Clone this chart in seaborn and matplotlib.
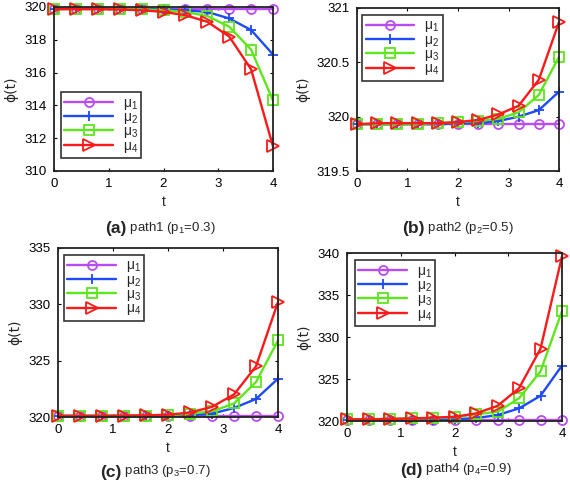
import numpy as np
import pandas as pd
import matplotlib
matplotlib.use("Agg")
import matplotlib.pyplot as plt
import seaborn as sns

sns.set_style("white")
plt.rcParams['font.family'] = ['Liberation Sans', 'DejaVu Sans']
plt.rcParams['mathtext.fontset'] = 'custom'
plt.rcParams['mathtext.rm'] = 'Liberation Sans'
plt.rcParams['mathtext.it'] = 'Liberation Sans:italic'

t = [0.0, 0.4, 0.8, 1.2, 1.6, 2.0, 2.4, 2.8, 3.2, 3.6, 4.0]

# panel (a) path1 p1=0.3
a_mu1 = [319.9]*11
a_mu2 = [319.9, 319.9, 319.9, 319.9, 319.88, 319.85, 319.8, 319.7, 319.3, 318.6, 317.1]
a_mu3 = [319.88, 319.88, 319.88, 319.87, 319.85, 319.8, 319.7, 319.45, 318.8, 317.4, 314.3]
a_mu4 = [319.87, 319.87, 319.87, 319.85, 319.8, 319.7, 319.5, 319.1, 318.2, 316.2, 311.5]

# panel (b) path2 p2=0.5
b_mu1 = [319.93]*11
b_mu2 = [319.93, 319.93, 319.93, 319.93, 319.93, 319.94, 319.94, 319.96, 320.0, 320.06, 320.23]
b_mu3 = [319.93, 319.93, 319.93, 319.93, 319.94, 319.95, 319.96, 319.98, 320.04, 320.2, 320.55]
b_mu4 = [319.93, 319.94, 319.94, 319.94, 319.94, 319.95, 319.97, 320.02, 320.1, 320.34, 320.87]

# panel (c) path3 p3=0.7
c_mu1 = [320.1]*11
c_mu2 = [320.1, 320.1, 320.1, 320.1, 320.1, 320.12, 320.15, 320.3, 320.8, 321.6, 323.4]
c_mu3 = [320.1, 320.1, 320.1, 320.1, 320.12, 320.15, 320.3, 320.5, 321.2, 323.1, 326.8]
c_mu4 = [320.1, 320.1, 320.1, 320.12, 320.15, 320.2, 320.4, 320.9, 322.0, 324.5, 330.2]

# panel (d) path4 p4=0.9
d_mu1 = [320.1]*11
d_mu2 = [320.1, 320.1, 320.1, 320.1, 320.15, 320.2, 320.35, 320.7, 321.5, 323.0, 326.6]
d_mu3 = [320.2, 320.2, 320.25, 320.3, 320.35, 320.45, 320.8, 321.1, 322.7, 325.9, 333.1]
d_mu4 = [320.2, 320.2, 320.25, 320.3, 320.4, 320.5, 320.9, 321.8, 323.9, 328.6, 339.6]

series_labels = ["μ$_1$", "μ$_2$", "μ$_3$", "μ$_4$"]
colors = ["#B84CF2", "#1E4BF5", "#5EE61C", "#FA1A1A"]
markers = ["o", "+", "s", ">"]
msizes = [6.5, 7.5, 6.5, 8.5]

panels = [
    dict(data=[a_mu1, a_mu2, a_mu3, a_mu4], ylim=(310, 320), yticks=[310, 312, 314, 316, 318, 320],
         yticklabels=["310", "312", "314", "316", "318", "320"],
         rect=[54/570, 1-171/487, 219/570, 164/487], leg=dict(loc="lower left", bbox_to_anchor=(0.032, 0.079)),
         cap_tag="(a)", cap_text="path1 (p$_1$=0.3)", cap_x=105, cap_y=229),
    dict(data=[b_mu1, b_mu2, b_mu3, b_mu4], ylim=(319.5, 321), yticks=[319.5, 320, 320.5, 321],
         yticklabels=["319.5", "320", "320.5", "321"],
         rect=[357/570, 1-171/487, 202/570, 163/487], leg=dict(loc="upper left", bbox_to_anchor=(0.025, 0.957)),
         cap_tag="(b)", cap_text="path2 (p$_2$=0.5)", cap_x=402, cap_y=229),
    dict(data=[c_mu1, c_mu2, c_mu3, c_mu4], ylim=(320, 335), yticks=[320, 325, 330, 335],
         yticklabels=["320", "325", "330", "335"],
         rect=[58/570, 1-417/487, 220/570, 169/487], leg=dict(loc="upper left", bbox_to_anchor=(0.027, 0.959)),
         cap_tag="(c)", cap_text="path3 (p$_3$=0.7)", cap_x=100, cap_y=472),
    dict(data=[d_mu1, d_mu2, d_mu3, d_mu4], ylim=(320, 340), yticks=[320, 325, 330, 335, 340],
         yticklabels=["320", "325", "330", "335", "340"],
         rect=[347/570, 1-421/487, 215/570, 168/487], leg=dict(loc="upper left", bbox_to_anchor=(0.037, 0.958)),
         cap_tag="(d)", cap_text="path4 (p$_4$=0.9)", cap_x=400, cap_y=470),
]

fig = plt.figure(figsize=(5.70, 4.87), dpi=100)
fig.patch.set_facecolor("white")

for p in panels:
    ax = fig.add_axes(p["rect"])
    for vals, lab, col, mk, ms in zip(p["data"], series_labels, colors, markers, msizes):
        df = pd.DataFrame({"t": t, "phi": vals})
        sns.lineplot(data=df, x="t", y="phi", ax=ax, color=col, marker=mk, markersize=ms,
                     markerfacecolor="none", markeredgecolor=col, markeredgewidth=1.3,
                     linewidth=1.7, label=lab, clip_on=False)
    ax.set_xlim(0, 4)
    ax.set_ylim(*p["ylim"])
    ax.set_xticks([0, 1, 2, 3, 4])
    ax.set_xticklabels(["0", "1", "2", "3", "4"])
    ax.set_yticks(p["yticks"])
    ax.set_yticklabels(p["yticklabels"])
    ax.tick_params(direction="in", length=2.5, width=0.8, labelsize=9.5, top=True, right=True,
                   bottom=True, left=True, pad=5, colors="black")
    for s in ax.spines.values():
        s.set_visible(True)
        s.set_color("#222222")
        s.set_linewidth(1.3)
    ax.set_xlabel("t", fontsize=10, labelpad=4)
    ax.set_ylabel("ϕ(t)", fontsize=10, family=["DejaVu Sans"], labelpad=5)
    leg = ax.legend(fontsize=10, frameon=True, fancybox=False, edgecolor="black",
                    handlelength=3.5, handletextpad=0.7, labelspacing=-0.12, borderpad=0.25,
                    borderaxespad=0.0, **p["leg"])
    leg.get_frame().set_linewidth(1.2)
    # caption
    t1 = fig.text(p["cap_x"]/570, 1-p["cap_y"]/487, p["cap_tag"], fontsize=12.5, fontweight="bold",
                  ha="left", va="center")
    ax.annotate(" " + p["cap_text"], xy=(1, 0.05), xycoords=t1, va="bottom", ha="left", fontsize=9.5)

fig.savefig("out.png", dpi=100, facecolor="white")
